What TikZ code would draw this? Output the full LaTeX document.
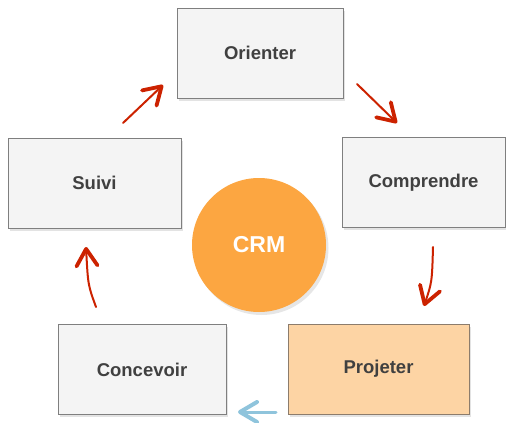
\documentclass[tikz,border=0pt]{standalone}
\usepackage{fontspec}
\setmainfont{Liberation Sans}
\usetikzlibrary{arrows.meta,shadows}
\definecolor{boxfill}{HTML}{F4F4F4}
\definecolor{boxline}{HTML}{7F7F7F}
\definecolor{peach}{HTML}{FDD4A4}
\definecolor{peachline}{HTML}{8C7C6C}
\definecolor{crmorange}{HTML}{FCA641}
\definecolor{labeltext}{HTML}{404040}
\definecolor{arrowred}{HTML}{CC2200}
\definecolor{arrowblue}{HTML}{8FC4DC}
\tikzset{
  stagebox/.style={draw=boxline, line width=0.9pt, fill=boxfill,
    minimum height=90pt, inner sep=0pt, text=labeltext,
    font=\bfseries\fontsize{18.5}{22}\selectfont,
    drop shadow={shadow xshift=1.5pt, shadow yshift=-2.5pt, opacity=0.22}},
  redarrow/.style={draw=arrowred, line width=2pt, line cap=round,
    -{Straight Barb[length=17pt, width=21pt, line width=3.8pt, round]}},
  bluearrow/.style={draw=arrowblue, line width=3pt, line cap=round,
    -{Straight Barb[length=17pt, width=20pt, line width=4pt, round]}}
}
\begin{document}
\begin{tikzpicture}[x=1pt, y=-1pt]
  \useasboundingbox (0,0) rectangle (506,423);

  % process stages
  \node[stagebox, minimum width=166pt] (orienter) at (260,53) {Orienter};
  \node[stagebox, minimum width=173pt] (suivi) at (94.5,183) {Suivi};
  \node[stagebox, minimum width=163pt] (comprendre) at (423.5,182.5) {Comprendre};
  \node[stagebox, minimum width=168pt] (concevoir) at (142,369.5) {Concevoir};
  \node[stagebox, minimum width=181pt, fill=peach, draw=peachline] (projeter) at (378.5,369) {Projeter};

  % central hub
  \node[circle, fill=crmorange, minimum size=134pt, inner sep=0pt, text=white,
        font=\bfseries\fontsize{23}{27}\selectfont,
        drop shadow={shadow xshift=2.5pt, shadow yshift=-3pt, opacity=0.2}]
        (crm) at (259,245) {CRM};

  % arrow end points between the stages
  \coordinate (a1s) at (123,123);  \coordinate (a1e) at (163,85);
  \coordinate (a2s) at (357,84);   \coordinate (a2e) at (397,123);
  \coordinate (a3s) at (433,247);  \coordinate (a3e) at (424,306);
  \coordinate (a4s) at (276,412);  \coordinate (a4e) at (238,412);
  \coordinate (a5s) at (96,307);   \coordinate (a5e) at (86,247);

  \draw[redarrow] (a1s) -- (a1e);
  \draw[redarrow] (a2s) -- (a2e);
  \draw[redarrow] (a3s) .. controls (432,282) .. (a3e);
  \draw[bluearrow] (a4s) -- (a4e);
  \draw[redarrow] (a5s) .. controls (88,285) .. (a5e);
\end{tikzpicture}
\end{document}
